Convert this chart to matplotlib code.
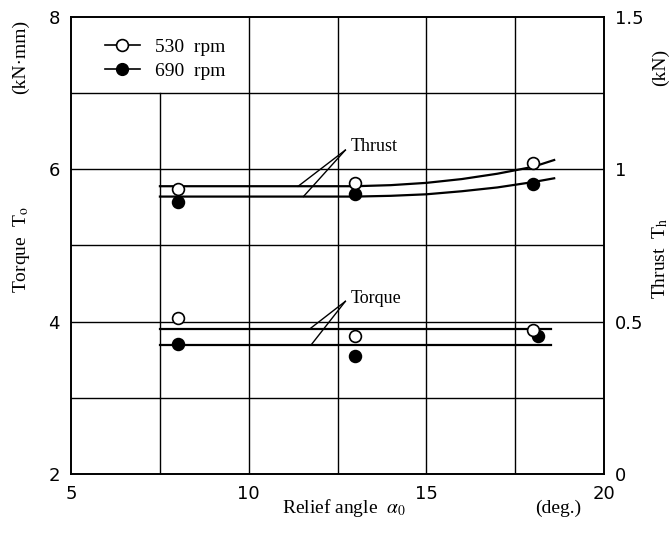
import matplotlib.pyplot as plt

plt.rcParams['font.family'] = 'DejaVu Sans'
plt.rcParams['mathtext.fontset'] = 'stix'

# measured points (relief angle in deg.)
angle = [8, 13, 18]
angle_690_torque = [8, 13, 18.15]
torque_530 = [4.04, 3.81, 3.885]     # kN*mm
torque_690 = [3.70, 3.55, 3.805]
thrust_530 = [0.934, 0.954, 1.02]    # kN
thrust_690 = [0.891, 0.92, 0.95]

# fitted curves
fit_torque_x = [7.5, 18.5]
fit_torque_530 = [3.907, 3.907]
fit_torque_690 = [3.695, 3.695]
fit_thrust_x = [7.5, 13, 14, 15, 16, 17, 18, 18.6]
fit_thrust_530 = [0.944, 0.944, 0.9475, 0.955, 0.9675, 0.985, 1.0075, 1.03]
fit_thrust_690 = [0.91, 0.91, 0.9125, 0.9175, 0.9275, 0.94, 0.9575, 0.97]

xticks = [5, 10, 15, 20]
yticks_left = [2, 4, 6, 8]
yticks_right = [0, 0.5, 1, 1.5]
yticks_right_lbl = ['0', '0.5', '1', '1.5']

serif = 'Liberation Serif'

fig = plt.figure(figsize=(6.71, 5.41), dpi=100)
ax = fig.add_axes([0.106, 0.124, 0.794, 0.845])
ax.set_xlim(5, 20)
ax.set_ylim(2, 8)

# grid drawn by hand (legend cell has no line at 7.5)
for y in [3, 4, 5, 6, 7]:
    ax.axhline(y, color='black', lw=1.0, zorder=1)
for x in [10, 12.5, 15, 17.5]:
    ax.axvline(x, color='black', lw=1.0, zorder=1)
ax.axvline(7.5, ymax=5 / 6, color='black', lw=1.0, zorder=1)
for s in ax.spines.values():
    s.set_linewidth(1.2)

ax.set_xticks(xticks)
ax.set_xticklabels([str(t) for t in xticks], fontsize=13)
ax.set_yticks(yticks_left)
ax.set_yticklabels([str(t) for t in yticks_left], fontsize=13)
ax.tick_params(length=0, pad=8)

ax2 = ax.twinx()
ax2.set_ylim(0, 1.5)
ax2.set_yticks(yticks_right)
ax2.set_yticklabels(yticks_right_lbl, fontsize=13)
ax2.tick_params(length=0, pad=8)
for s in ax2.spines.values():
    s.set_linewidth(1.2)

# fitted lines
ax.plot(fit_torque_x, fit_torque_530, color='black', lw=1.6, zorder=2)
ax.plot(fit_torque_x, fit_torque_690, color='black', lw=1.6, zorder=2)
ax2.plot(fit_thrust_x, fit_thrust_530, color='black', lw=1.6, zorder=2)
ax2.plot(fit_thrust_x, fit_thrust_690, color='black', lw=1.6, zorder=2)

# measured points
mk = dict(marker='o', markersize=8.5, markeredgecolor='black', markeredgewidth=1.2, linestyle='none', zorder=4)
ax.plot(angle_690_torque, torque_690, markerfacecolor='black', **mk)
ax.plot(angle, torque_530, markerfacecolor='white', **mk)
ax2.plot(angle, thrust_690, markerfacecolor='black', **mk)
ax2.plot(angle, thrust_530, markerfacecolor='white', **mk)

# leader lines and labels
ax.plot([12.72, 11.39], [6.25, 5.775], color='black', lw=1.0)
ax.plot([12.72, 11.54], [6.25, 5.64], color='black', lw=1.0)
ax.text(12.86, 6.30, 'Thrust', fontsize=13, family=serif, va='center', ha='left')
ax.plot([12.72, 11.73], [4.265, 3.907], color='black', lw=1.0)
ax.plot([12.72, 11.76], [4.265, 3.695], color='black', lw=1.0)
ax.text(12.86, 4.30, 'Torque', fontsize=13, family=serif, va='center', ha='left')

# legend
h1, = ax.plot([], [], color='black', lw=1.2, marker='o', markersize=8.5,
              markerfacecolor='white', markeredgecolor='black', markeredgewidth=1.2)
h2, = ax.plot([], [], color='black', lw=1.2, marker='o', markersize=8.5,
              markerfacecolor='black', markeredgecolor='black')
ax.legend([h1, h2], ['530  rpm', '690  rpm'], loc='upper left',
          bbox_to_anchor=(0.045, 0.975), frameon=False, handlelength=1.8,
          handletextpad=0.8, labelspacing=0.35, borderpad=0,
          prop={'family': serif, 'size': 14})

# axis titles
fig.text(282 / 671, 1 - 508 / 541, r'Relief angle  $\alpha_0$', fontsize=14,
         family=serif, ha='left', va='center')
fig.text(535 / 671, 1 - 508 / 541, '(deg.)', fontsize=14, family=serif,
         ha='left', va='center')
fig.text(21 / 671, 1 - 250 / 541, r'Torque  T$_\mathrm{o}$', fontsize=14,
         family=serif, rotation=90, ha='center', va='center')
fig.text(20 / 671, 1 - 57 / 541, '(kN·mm)', fontsize=14, family=serif,
         rotation=90, ha='center', va='center')
fig.text(660 / 671, 1 - 258 / 541, r'Thrust  T$_\mathrm{h}$', fontsize=14,
         family=serif, rotation=90, ha='center', va='center')
fig.text(660 / 671, 1 - 67 / 541, '(kN)', fontsize=14, family=serif,
         rotation=90, ha='center', va='center')

fig.savefig('out.png', dpi=100)
